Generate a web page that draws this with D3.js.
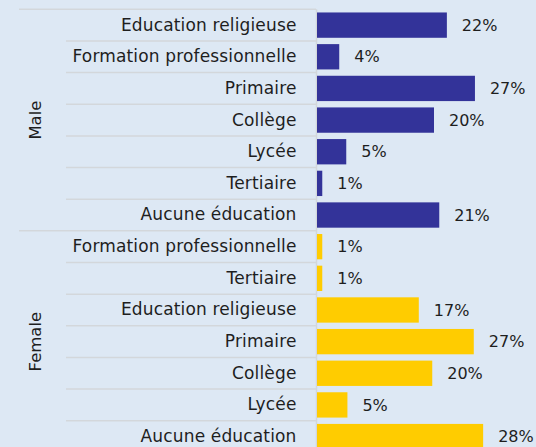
<!DOCTYPE html>
<html>
<head>
<meta charset="utf-8">
<script src="https://cdn.jsdelivr.net/npm/d3@7"></script>
<style>
  body { margin: 0; background: #dde8f4; }
  svg { display: block; }
  text { font-family: "DejaVu Sans", sans-serif; fill: #1e1e1e; }
</style>
</head>
<body>
<svg width="536" height="447"></svg>
<script>
const groups = ["Male", "Female"];
const maleCats = ["Education religieuse", "Formation professionnelle", "Primaire", "Collège", "Lycée", "Tertiaire", "Aucune éducation"];
const maleValues = [22.2, 3.8, 27.0, 20.0, 5.0, 0.9, 20.9];
const femaleCats = ["Formation professionnelle", "Tertiaire", "Education religieuse", "Primaire", "Collège", "Lycée", "Aucune éducation"];
const femaleValues = [0.9, 0.9, 17.4, 26.8, 19.7, 5.2, 28.4];
const colors = ["#333399", "#ffcc00"];

let svg = d3.select("svg");

// rows, one per group/category pair
let rows = [];
maleCats.forEach((c, i) => rows.push({ group: "Male", cat: c, v: maleValues[i], key: "Male|" + c }));
femaleCats.forEach((c, i) => rows.push({ group: "Female", cat: c, v: femaleValues[i], key: "Female|" + c }));

let topY = 9.3, rowH = 31.65;
let scale_y = d3.scaleBand().domain(rows.map(d => d.key))
    .range([topY, topY + rows.length * rowH]).paddingInner(0.2).paddingOuter(0.1);
let scale_x = d3.scaleLinear().domain([0, 30]).range([317, 317 + 5.85 * 30]);
let color = d3.scaleOrdinal().domain(groups).range(colors);

let step = scale_y.step();
let rowTop = d => scale_y(d) - scale_y.paddingInner() * step / 2;

// separators
let grid = svg.append("g").attr("stroke", "#d3d7db").attr("stroke-width", 1.5);
rows.forEach((d, i) => {
    let first = i === 0 || rows[i - 1].group !== d.group;
    grid.append("line")
        .attr("x1", first ? 19 : 66).attr("x2", 316)
        .attr("y1", rowTop(d.key)).attr("y2", rowTop(d.key));
});

// category axis
let y_axis = d3.axisLeft(scale_y).tickSize(0).tickSizeOuter(0).tickPadding(20)
    .tickFormat(k => k.split("|")[1]);
let ax = svg.append("g").attr("transform", "translate(316.5,0)").call(y_axis);
ax.select(".domain").attr("stroke", "#d3d7db").attr("stroke-width", 1.5)
    .attr("d", "M0," + topY + "V" + (topY + rows.length * rowH));
ax.selectAll("text").style("font-size", "17px").style("letter-spacing", "0.15px").attr("fill", "#1e1e1e");

// group labels
groups.forEach(g => {
    let keys = rows.filter(d => d.group === g).map(d => d.key);
    let y0 = rowTop(keys[0]), y1 = rowTop(keys[keys.length - 1]) + step;
    svg.append("text")
        .attr("transform", "translate(35," + ((y0 + y1) / 2) + ") rotate(-90)")
        .attr("text-anchor", "middle")
        .attr("dy", "0.35em")
        .style("font-size", "16.5px")
        .text(g);
});

// bars
svg.append("g").selectAll("rect").data(rows).enter().append("rect")
    .attr("x", scale_x(0))
    .attr("y", d => scale_y(d.key))
    .attr("width", d => scale_x(d.v) - scale_x(0))
    .attr("height", scale_y.bandwidth())
    .attr("fill", d => color(d.group));

// value labels
let fmt = d3.format(".0f");
svg.append("g").selectAll("text").data(rows).enter().append("text")
    .attr("x", d => scale_x(d.v) + 15)
    .attr("y", d => scale_y(d.key) + scale_y.bandwidth() / 2)
    .attr("dy", "0.35em")
    .style("font-size", "16px")
    .text(d => fmt(d.v) + "%");
</script>
</body>
</html>
